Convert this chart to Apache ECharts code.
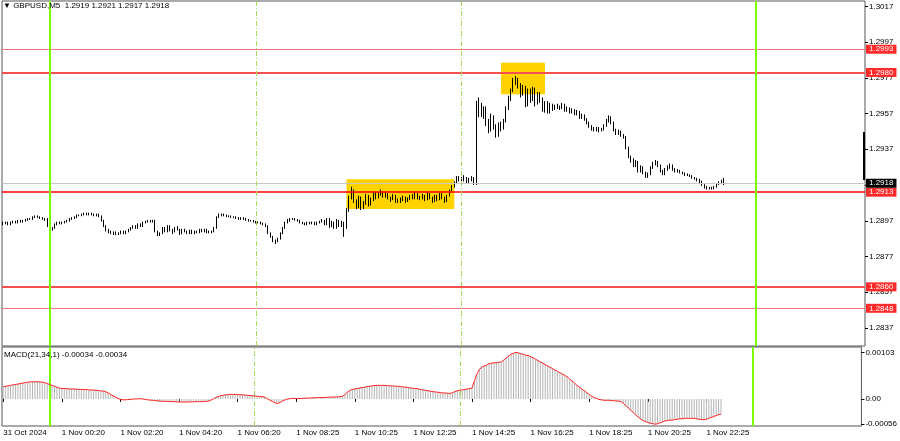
<!DOCTYPE html>
<html><head><meta charset="utf-8">
<script src="https://cdn.jsdelivr.net/npm/echarts@6.0.0/dist/echarts.min.js"></script>
<style>html,body{margin:0;padding:0;background:#fff}#c{width:900px;height:441px}</style>
</head><body><div id="c"></div>
<script>
// ---- data ----
const tickLabels = ['31 Oct 2024','1 Nov 00:20','1 Nov 02:20','1 Nov 04:20','1 Nov 06:20','1 Nov 08:25','1 Nov 10:25','1 Nov 12:25','1 Nov 14:25','1 Nov 16:25','1 Nov 18:25','1 Nov 20:25','1 Nov 22:25'];
const priceTicks = [1.3017,1.2997,1.2977,1.2957,1.2937,1.2917,1.2897,1.2877,1.2857,1.2837];
const macdTicks = [0.00103, 0, -0.00056];
const macdTickLabels = ['0.00103','0.00','-0.00056'];
const levelValues = [1.2993, 1.2980, 1.2913, 1.2860, 1.2848];
const lastPrice = 1.2918;
const dayLines = [19, 307];
const sessionLines = [103, 187];
const zones = [[140, 184, 1.29203, 1.29036], [203, 221, 1.29854, 1.29678]];
const rightMarker = [351, 1.29467, 1.29198];
// candles: [open, close, low, high] in pips above 1.2000
const candlesPips = [
[896,895.5,894.5,896.5],[895.5,896,895,896.5],[896,895,894.5,896.5],[895,896,894.5,896.5],[896,896.5,895.5,897],[896.5,896,895.5,897],[896,897,895.5,897.5],[897,896.5,896,897.5],[896.5,897,896,897.5],[897,897.5,896.5,898],
[897.5,898,897,898.5],[898,898,897.5,898.5],[898,899,897.5,899.5],[899,899.5,898.5,900],[899.5,899,898.5,900],[899,898.5,898,899.5],[898.5,898,897.5,899],[898,898,897,898.5],[898,894,893.5,898.5],[894,892,891.5,894.5],
[892,893,891.5,893.5],[893,895,892.5,895.5],[895,896,894.5,896.5],[896,895.5,895,896.5],[895.5,896,895,896.5],[896,896.5,895.5,897],[896.5,897,896,897.5],[897,898,896.5,898.5],[898,898.5,897.5,899],[898.5,899,898,899.5],
[899,900,898.5,900.5],[900,900,899.5,900.5],[900,900.5,899.5,901],[900.5,901,900,901.5],[901,900.5,900,901.5],[900.5,901,900,901.5],[901,900.5,900,901.5],[900.5,900,899.5,901],[900,900.5,899.5,901],[900.5,899.5,899,901],
[899.5,897,896.5,900],[897,894,893.5,897.5],[894,892,891,894.5],[892,891,890,892.5],[891,890,889.5,891.5],[890,890.5,889,891],[890.5,889.5,889,891],[889.5,890,889,890.5],[890,891,889.5,891.5],[891,890,889.5,891.5],
[890,891,889.5,891.5],[891,892,890.5,892.5],[892,893,891.5,893.5],[893,894,892.5,894.5],[894,893,892.5,894.5],[893,895,892.5,895.5],[895,894,893.5,895.5],[894,896,893.5,896.5],[896,896.5,895.5,897],[896.5,897,896,897.5],
[897,896.5,896,897.5],[896.5,897,896,897.5],[897,891,890.5,897.5],[891,889,888.5,891.5],[889,890,888.5,890.5],[890,893,889.5,893.5],[893,891,890.5,893.5],[891,894,890.5,894.5],[894,892,891,894.5],[892,891,889.5,892.5],
[891,893,890.5,893.5],[893,892,891.5,894],[892,890,889,892.5],[890,892,889.5,892.5],[892,891,890.5,892.5],[891,890,889.5,891.5],[890,891.5,889.5,892],[891.5,890,889.5,892],[890,891,889.5,891.5],[891,890.5,890,891.5],
[890.5,892,890,892.5],[892,891,890.5,892.5],[891,892,890.5,892.5],[892,890.5,890,892.5],[890.5,891,890,891.5],[891,891,890,891.5],[891,893,890.5,893.5],[893,899,892.5,899.5],[899,900,898.5,901],[900,900.5,899.5,901],
[900.5,900,899.5,901],[900,899.5,899,900.5],[899.5,899.5,899,900],[899.5,899,898.5,900],[899,899,898.5,899.5],[899,898.5,898,899.5],[898.5,898,897.5,899],[898,898.5,897.5,899],[898.5,898,897.5,899],[898,897.5,897,898.5],
[897.5,897,896.5,898],[897,897,896.5,897.5],[897,896.5,896,897.5],[896.5,896,895.5,897],[896,896,895.5,896.5],[896,895.5,895,896.5],[895.5,895,894.5,896],[895,894,893.5,895.5],[894,890,889.5,894.5],[890,888,887.5,890.5],
[888,886,885,888.5],[886,885.5,884,886.5],[885.5,887,885,887.5],[887,890,886.5,890.5],[890,893,889.5,893.5],[893,896,892.5,896.5],[896,897,895.5,898],[897,898,896.5,898.5],[898,898,897.5,898.5],[898,897.5,897,898.5],
[897.5,897,896.5,898],[897,896,895.5,897.5],[896,895.5,895,896.5],[895.5,895,894.5,896],[895,896,894.5,896.5],[896,895.5,895,896.5],[895.5,896,895,896.5],[896,895,894.5,896.5],[895,896,894.5,896.5],[896,896.5,895.5,897],
[896.5,897,896,898],[897,895,894.5,897.5],[895,898,894.5,898.5],[898,894,893,898.5],[894,896,893.5,897],[896,893,892.5,896.5],[893,897,892.5,898],[897,894,893.5,897.5],[894,896,893.5,897],[896,893,888,896.5],
[893,903,892.5,904],[903,910,902,911],[910,914,909,916],[914,908,907,914.5],[908,905,903.5,909],[905,910,904,911],[910,904,903,910.5],[904,907,903.5,908],[907,911,906,912],[911,906,905,911.5],
[906,909,905.5,910],[909,912,908,913],[912,910,909,913],[910,912,909.5,913],[912,913,911,914.5],[913,911,910,913.5],[911,912,910,913],[912,910,909,912.5],[910,909,907.5,910.5],[909,911,908.5,912],
[911,908,907,911.5],[908,908.5,907,909.5],[908,909,907,910],[909,910,908,911],[910,908,907,910.5],[908,909,907.5,910],[909,911,908.5,911.5],[911,910,909,912],[910,912,909,913],[912,910,909,912.5],
[910,910,908.5,911],[910,911,909,912],[911,909,908,911.5],[909,912,908.5,913],[912,910,909,912.5],[910,908,907,910.5],[908,911,907.5,911.5],[911,909,908,911.5],[909,912,908.5,912.5],[912,910,909,912.5],
[910,908,907,910.5],[908,911,907.5,911.5],[911,914,910.5,914.5],[914,916,913.5,917],[916,918,915.5,919],[918,921,917.5,922],[921,920,919,922],[920,920,918.5,921.5],[920,921,919,922.5],[921,919,918,921.5],
[919,920,918,921],[920,921,919,922],[921,918,917,921.5],[918,960,917,964],[960,962,955,966],[962,958,955,963],[958,960,954,961],[960,952,950,961],[952,948,946,954],[948,955,947,957],
[955,950,948,956],[950,945,943.5,951],[945,951,944,952],[951,949,947,952.5],[949,953,948,954],[953,960,952,961],[960,966,959,967],[966,970,964,971],[970,975,969,977],[975,976,973,978],
[976,973,971,977],[973,968,966,974],[968,972,967,973],[972,962,960.5,972.5],[962,970,961,971],[970,965,963,971],[965,971,964,972],[971,963,961,971.5],[963,968,962,969],[968,965,963,969],
[965,960,958,966],[960,963,957.5,964],[963,958,957,964],[958,962,957,963],[962,960,958.5,962.5],[960,961,959,962],[961,961,959.5,962.5],[961,960,959,961.5],[960,962,959.5,963],[962,959,958,962.5],
[959,960,958,961],[960,958,957,960.5],[958,959,957,960],[959,957,956,959.5],[957,958,956,959],[958,955,954,958.5],[955,956,954,957],[956,954,953,956.5],[954,952,951,954.5],[952,950,949,952.5],
[950,949,947.5,950.5],[949,948,947,949.5],[948,949,947,949.5],[949,947.5,946.5,949.5],[947.5,948,947,949],[948,950,947.5,951],[950,953,949.5,954],[953,955,952,956],[955,952,951,955.5],[952,948,947,952.5],
[948,946,945,948.5],[946,947,945,948],[947,945,944,947.5],[945,944,943,945.5],[944,938,937,944.5],[938,933,932,938.5],[933,931,929.5,933.5],[931,928,927,932],[928,930,927,931],[930,925,924,930.5],
[925,927,924,928],[927,924,923,927.5],[924,922,921,924.5],[922,923,921,924],[923,927,922.5,927.5],[927,929,926,930],[929,930,928,931],[930,928,927,930.5],[928,925,924,928.5],[925,923,922.5,925.5],
[923,926,922.5,926.5],[926,927,925,928],[927,928,926,929],[928,926,925,928.5],[926,925,924,926.5],[925,925,924,926],[925,924,923.5,925.5],[924,923.5,923,924.5],[923.5,923,922,924],[923,922.5,922,923.5],
[922.5,922,921.5,923],[922,921,920.5,922.5],[921,920.5,920,921.5],[920.5,920,919,921],[920,919,918,920.5],[919,917,916.5,919.5],[917,916,915,917.5],[916,915,914.5,916.5],[915,915.5,914.5,916],[915.5,915,914.5,916],
[915,916,914.5,916.5],[916,917.5,915.5,918],[917.5,918,917,919],[918,919.5,917.5,920],[919,918,917,921]
];
// MACD(21,34,1) in units of 0.00001
const macdValues = [
27,28,29,30,31,32,33,34,35,36,37,37.5,38,
38,38,37.5,37,
36,34,32,30,28,26,24,
23,23,22.5,22,22,22,21.5,21,21,21,20.5,20,20,19.5,19,
18.5,18,17,16,
13,10,7,4,1,-1,
-2,-2,-1.5,-1,-0.5,0,0,0.5,0,
-1,-2,-2.5,-3,-3.5,-4,-5,
-5,-5.5,-5.5,-6,-6,-6,-6.5,-6.5,-7,-7,-7,-6.5,-6.5,-6.5,-6,-6,-6,-6,-5.5,-5,-3,
0,3,5,
7,8,9,9.5,10,10,10,9.5,
9,9,8.5,8,7.5,7,6.5,6,5.5,5,4,
1,-2,-5,-8,-10,-9,-6,
-3,-1,0,1,1,1,1,
1,1.5,1.5,2,2,2.5,2.5,3,3,3,3.5,3.5,4,4,4.5,4.5,5,
6,10,15,19,
21,22,23,24,25,26,27,28,29,29.5,30,
30,30,30,29.5,29,29,28.5,28.2,
28,27,26.5,26,25,24,23.5,23,22,21,20,19,18,17,16,
15.5,15,14,13.5,13,12.5,12,
14,16,18,19,20,21,22,23,24,
40,55,65,70,73,75,
78,79,80,80,81,82,
86,91,95,99,101,103,
102,100,99,97,96,94,91,88,
85,82,79,76,73,70,67,
64,61,58,55,52,49,
44,40,35,30,
26,22,18,14,
10,6,3,1,
-1,-2,-3,-3,-3,
-3.5,-4,-4.5,-5,-6,
-10,-15,-20,-25,-30,-35,-40,-44,-48,-50,
-52,-54,-55,-56,-55,-53,-51,-49,
-48,-47,-47,-46,-45,
-44,-44,-43,-43,-43,-43,-43,-44,-45,
-46,-46,-45,
-43,-41,-39,-37,-35,-34
];

// ---- build ----
const NCAT = 352;
const cats = [];
for (let i = 0; i < NCAT; i++) cats.push(String(i));
const candles = candlesPips.map(q => q.map(v => +(1.2 + v / 10000).toFixed(5)));
const macd = macdValues.map(v => +(v * 1e-5).toFixed(6));
const isLabel = (i) => i % 24 === 0 && i / 24 < tickLabels.length;

const FONT = 'Liberation Sans';
const levelStyles = [
  {color:'#f27878', width:1},
  {color:'#f65050', width:2},
  {color:'#ff0000', width:1.5},
  {color:'#f65050', width:2},
  {color:'#f27878', width:1}
];
function tag(bg){
  return {show:true, position:'end', distance:1, formatter:(p)=>Number(p.value).toFixed(4),
    backgroundColor:bg, color:'#fff', fontSize:8, fontFamily:FONT, padding:[1,3,0,3], lineHeight:8};
}
const mainMarkLines = [];
levelValues.forEach((v, k) => mainMarkLines.push({yAxis:v, lineStyle:{color:levelStyles[k].color, width:levelStyles[k].width, type:'solid'}, label:tag('#ff2a2a')}));
mainMarkLines.push({yAxis:lastPrice, lineStyle:{color:'#c8c8c8', width:1, type:'solid'}, label:tag('#000000')});
function vLines(){
  const arr = [];
  dayLines.forEach(x => arr.push({xAxis:x, lineStyle:{color:'#7cfc00', width:2, type:'solid'}, label:{show:false}}));
  sessionLines.forEach(x => arr.push({xAxis:x, lineStyle:{color:'#a6dc5a', width:1, type:[5,2,1,2]}, label:{show:false}}));
  return arr;
}
const mainLines = mainMarkLines.concat(vLines());
mainLines.push([{coord:[rightMarker[0], rightMarker[1]], lineStyle:{color:'#000', width:2, type:'solid'}, label:{show:false}}, {coord:[rightMarker[0], rightMarker[2]]}]);

const chart = echarts.init(document.getElementById('c'));
chart.setOption({
  animation:false,
  textStyle:{fontFamily:FONT},
  title:[
    {text:'▼ GBPUSD,M5  1.2919 1.2921 1.2917 1.2918', left:3, top:2, padding:0, textStyle:{fontSize:8, fontWeight:'normal', color:'#000', fontFamily:FONT}},
    {text:'MACD(21,34,1) -0.00034 -0.00034', left:4, top:351, padding:0, textStyle:{fontSize:8, fontWeight:'normal', color:'#000', fontFamily:FONT}}
  ],
  grid:[
    {left:2, top:1, width:863, height:345, show:true, borderColor:'#555', borderWidth:1, backgroundColor:'transparent'},
    {left:2, top:347, width:863, height:79, show:true, borderColor:'#555', borderWidth:1, backgroundColor:'transparent'}
  ],
  xAxis:[
    {type:'category', gridIndex:0, data:cats, boundaryGap:true, axisLine:{show:false}, axisTick:{show:false}, axisLabel:{show:false}, splitLine:{show:false}},
    {type:'category', gridIndex:1, data:cats, boundaryGap:true, axisLine:{show:false},
      axisTick:{show:true, alignWithLabel:true, interval:(i)=>isLabel(i), length:3, lineStyle:{color:'#000'}},
      axisLabel:{show:true, interval:(i)=>isLabel(i), formatter:(v)=>tickLabels[Number(v)/24], align:'left', margin:3, fontSize:8, color:'#000', fontFamily:FONT},
      splitLine:{show:false}}
  ],
  yAxis:[
    {type:'value', gridIndex:0, position:'right', min:1.28269, max:1.30200, scale:true,
      axisLine:{show:false}, splitLine:{show:false},
      axisTick:{show:true, customValues:priceTicks, length:3, lineStyle:{color:'#000'}},
      axisLabel:{show:true, customValues:priceTicks, formatter:(v)=>Number(v).toFixed(4), fontSize:8, color:'#000', margin:4, fontFamily:FONT}},
    {type:'value', gridIndex:1, position:'right', min:-0.0006, max:0.00115,
      axisLine:{show:false}, splitLine:{show:false},
      axisTick:{show:true, customValues:macdTicks, length:3, lineStyle:{color:'#000'}},
      axisLabel:{show:true, customValues:macdTicks, formatter:(v)=>{const k = macdTicks.findIndex(t=>Math.abs(t-v)<1e-7); return k>=0?macdTickLabels[k]:'';}, fontSize:8, color:'#000', margin:4, fontFamily:FONT}}
  ],
  series:[
    {type:'candlestick', xAxisIndex:0, yAxisIndex:0, data:candles, barWidth:1,
      itemStyle:{color:'#ffffff', color0:'#000000', borderColor:'#000000', borderColor0:'#000000', borderWidth:1},
      markArea:{silent:true, itemStyle:{color:'#ffd200', opacity:1},
        data: zones.map(z => [{xAxis:z[0], yAxis:z[2]}, {xAxis:z[1], yAxis:z[3]}])},
      markLine:{silent:true, symbol:['none','none'], precision:5, animation:false, data:mainLines}
    },
    {type:'bar', xAxisIndex:1, yAxisIndex:1, data:macd, barWidth:1, itemStyle:{color:'#b4b4b4'}},
    {type:'line', xAxisIndex:1, yAxisIndex:1, data:macd, symbol:'none', lineStyle:{color:'#ff2020', width:1}, z:5,
      markLine:{silent:true, symbol:['none','none'], animation:false, data:vLines()}}
  ]
});
</script>
</body></html>
